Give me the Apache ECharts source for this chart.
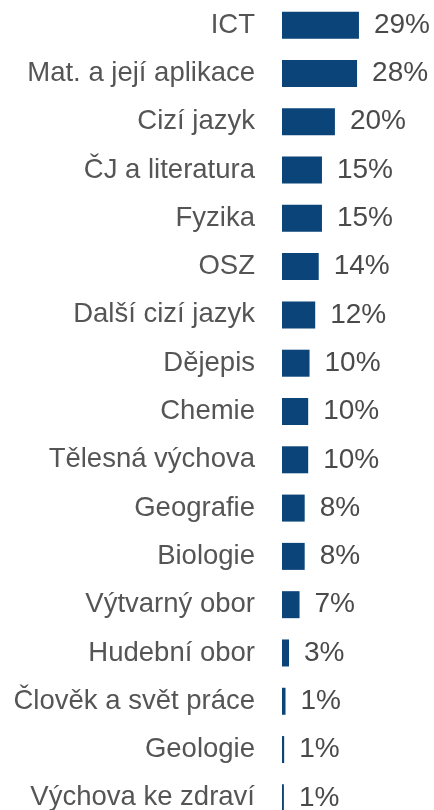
<!DOCTYPE html>
<html>
<head>
<meta charset="utf-8">
<script src="https://cdn.jsdelivr.net/npm/echarts@6/dist/echarts.min.js"></script>
<style>
  html, body { margin: 0; padding: 0; background: #fff; }
  #chart { width: 434px; height: 810px; }
</style>
</head>
<body>
<div id="chart"></div>
<script>
const categories = [
  'ICT', 'Mat. a její aplikace', 'Cizí jazyk', 'ČJ a literatura', 'Fyzika',
  'OSZ', 'Další cizí jazyk', 'Dějepis', 'Chemie', 'Tělesná výchova',
  'Geografie', 'Biologie', 'Výtvarný obor', 'Hudební obor',
  'Člověk a svět práce', 'Geologie', 'Výchova ke zdraví'
]
const values = [
  28.5, 27.8, 19.6, 14.8, 14.8,
  13.6, 12.3, 10.2, 9.7, 9.7,
  8.4, 8.4, 6.5, 2.6,
  1.3, 0.8, 0.7
]

const chart = echarts.init(document.getElementById('chart'))
const font = "'Liberation Sans', Arial, sans-serif"
chart.setOption({
  animation: false,
  grid: {
    left: 282,
    top: 1,
    width: 108,
    height: 821,
    outerBoundsMode: 'none',
    containLabel: false,
  },
  xAxis: {
    type: 'value',
    min: 0,
    max: 40,
    show: false,
  },
  yAxis: {
    type: 'category',
    inverse: true,
    data: categories,
    axisLine: { show: false },
    axisTick: { show: false },
    axisLabel: {
      margin: 27,
      fontSize: 27.5,
      color: '#555555',
      fontFamily: font,
    },
  },
  series: [
    {
      type: 'bar',
      data: values,
      barWidth: 27,
      itemStyle: { color: '#0A4479' },
      label: {
        show: true,
        position: 'right',
        distance: 15,
        fontSize: 28,
        color: '#4a4a4a',
        fontFamily: font,
        formatter: function (p) {
          return Math.round(p.value) + '%'
        },
      },
    },
  ],
})
</script>
</body>
</html>
